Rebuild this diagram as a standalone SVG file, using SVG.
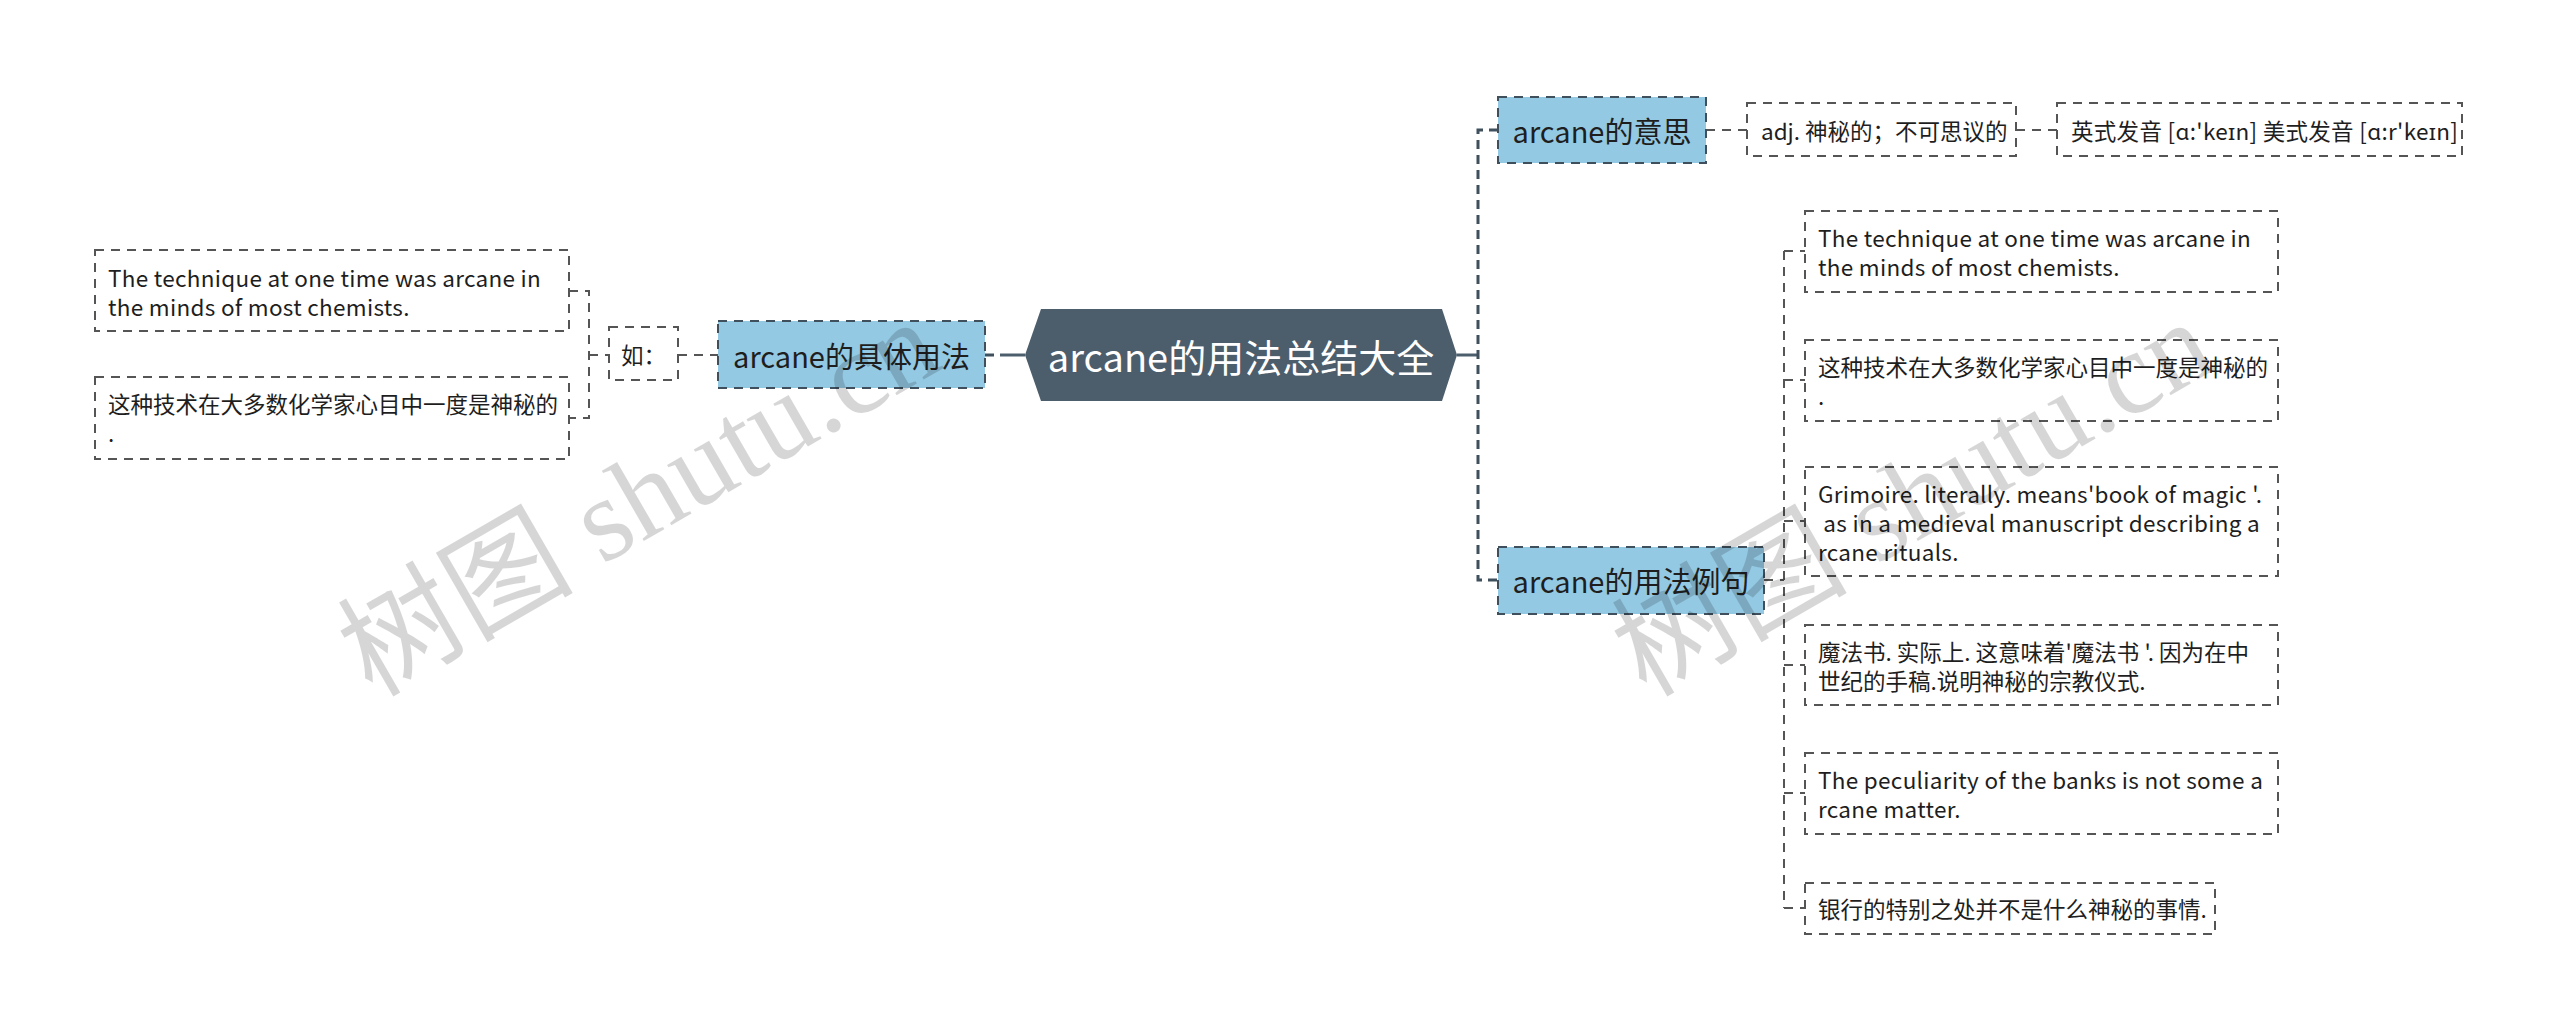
<svg xmlns="http://www.w3.org/2000/svg" width="2560" height="1031" viewBox="0 0 2560 1031">
<style>
text{font-family:"Noto Sans CJK SC","Noto Sans",sans-serif;dominant-baseline:central}
.leaf{fill:#ffffff;stroke:#555555;stroke-width:2;stroke-dasharray:9 7}
.sub{fill:#93c9e3;stroke:#3f4f5c;stroke-width:2;stroke-dasharray:9 7}
.t{font-size:22.5px;fill:#1e1e1e}
.l{letter-spacing:0.3px}
.ts{font-size:29px;fill:#1e1e1e;text-anchor:middle}
.c1{fill:none;stroke:#3f4f5c;stroke-width:3;stroke-dasharray:9 6}
.c2{fill:none;stroke:#555555;stroke-width:2;stroke-dasharray:9 7}
.solid{fill:none;stroke:#4c5d6c;stroke-width:3}
.wm{font-family:"Liberation Serif","Noto Sans CJK SC",serif;font-size:118px;fill:#000000;fill-opacity:0.16;dominant-baseline:auto}
</style>
<rect width="2560" height="1031" fill="#ffffff"/>
<g id="connectors">
<path class="solid" d="M1000 355 H1025"/>
<path class="c1" d="M985 355 H1000"/>
<path class="c2" d="M678 355 H718"/>
<path class="c2" d="M569 291 H589 V418 H569 M589 355 H609"/>
<path class="solid" d="M1457 355 H1478"/>
<path class="c1" d="M1498 130 H1478 V580 H1498"/>
<path class="c2" d="M1706 130 H1747 M2016 130 H2057"/>
<path class="c2" d="M1764 580 H1784 M1784 251 V908 M1784 251 H1805 M1784 380 H1805 M1784 521 H1805 M1784 665 H1805 M1784 793 H1805 M1784 908 H1805"/>
</g>
<g id="root">
<polygon points="1025,355 1041,309 1442,309 1457,355 1442,401 1041,401" fill="#4c5d6c"/>
<text x="1241" y="355" style="font-size:38px;fill:#ffffff;text-anchor:middle">arcane的用法总结大全</text>
</g>
<g id="n-usage">
<rect class="sub" x="718" y="321" width="267" height="67"/>
<text class="ts" x="851.5" y="355">arcane的具体用法</text>
</g>
<g id="n-ru">
<rect class="leaf" x="609" y="327" width="69" height="53"/>
<text class="t" x="643.5" y="354" style="text-anchor:middle">如：</text>
</g>
<g id="n-l1">
<rect class="leaf" x="95" y="250" width="474" height="81"/>
<text class="t l" x="108" y="277">The technique at one time was arcane in</text>
<text class="t l" x="108" y="306">the minds of most chemists.</text>
</g>
<g id="n-l2">
<rect class="leaf" x="95" y="377" width="474" height="82"/>
<text class="t" x="108" y="403">这种技术在大多数化学家心目中一度是神秘的</text>
<text class="t" x="108" y="432">.</text>
</g>
<g id="n-meaning">
<rect class="sub" x="1498" y="97" width="208" height="66"/>
<text class="ts" x="1602" y="130">arcane的意思</text>
</g>
<g id="n-adj">
<rect class="leaf" x="1747" y="103" width="269" height="53"/>
<text class="t" x="1761" y="130">adj. 神秘的；不可思议的</text>
</g>
<g id="n-pron">
<rect class="leaf" x="2057" y="103" width="405" height="53"/>
<text class="t l" x="2071" y="130">英式发音 [ɑ:'keɪn] 美式发音 [ɑ:r'keɪn]</text>
</g>
<g id="n-examples">
<rect class="sub" x="1498" y="547" width="266" height="67"/>
<text class="ts" x="1631" y="580">arcane的用法例句</text>
</g>
<g id="n-r1">
<rect class="leaf" x="1805" y="211" width="473" height="81"/>
<text class="t l" x="1818" y="237">The technique at one time was arcane in</text>
<text class="t l" x="1818" y="266">the minds of most chemists.</text>
</g>
<g id="n-r2">
<rect class="leaf" x="1805" y="340" width="473" height="81"/>
<text class="t" x="1818" y="366">这种技术在大多数化学家心目中一度是神秘的</text>
<text class="t" x="1818" y="395">.</text>
</g>
<g id="n-r3">
<rect class="leaf" x="1805" y="467" width="473" height="109"/>
<text class="t l" x="1818" y="493">Grimoire. literally. means'book of magic '.</text>
<text class="t l" x="1818" y="522" xml:space="preserve"> as in a medieval manuscript describing a</text>
<text class="t l" x="1818" y="551">rcane rituals.</text>
</g>
<g id="n-r4">
<rect class="leaf" x="1805" y="625" width="473" height="80"/>
<text class="t" x="1818" y="651">魔法书. 实际上. 这意味着'魔法书 '. 因为在中</text>
<text class="t" x="1818" y="680">世纪的手稿.说明神秘的宗教仪式.</text>
</g>
<g id="n-r5">
<rect class="leaf" x="1805" y="753" width="473" height="81"/>
<text class="t l" x="1818" y="779">The peculiarity of the banks is not some a</text>
<text class="t l" x="1818" y="808">rcane matter.</text>
</g>
<g id="n-r6">
<rect class="leaf" x="1805" y="883" width="410" height="51"/>
<text class="t" x="1818" y="908">银行的特别之处并不是什么神秘的事情.</text>
</g>
<g id="watermarks">
<text class="wm" transform="translate(372 698) rotate(-30)">树图 shutu.cn</text>
<text class="wm" transform="translate(1646 698) rotate(-30)">树图 shutu.cn</text>
</g>
</svg>
